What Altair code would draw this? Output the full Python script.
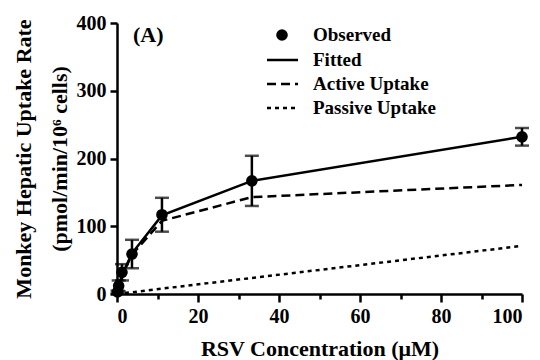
import altair as alt
import pandas as pd

# Observed data (RSV concentration in µM, uptake rate)
conc = [0.137, 0.41, 1.23, 3.7, 11.1, 33.3, 100]
observed = [3, 12, 32, 59, 117, 167, 232]
err = [2, 8, 12, 21, 25, 37, 13]

# Model curves read at the same concentrations (0 added at start)
curve_x = [0, 0.137, 0.41, 1.23, 3.7, 11.1, 33.3, 100]
fitted = [0, 3, 11, 28, 60, 116, 167, 232]
active = [0, 3, 10, 27, 58, 108, 143, 161]
passive = [0, 0.1, 0.3, 0.9, 2.6, 7.9, 23.7, 71]

FONT = "'Liberation Serif', 'Times New Roman', Times, serif"

obs_df = pd.DataFrame({"x": conc, "y": observed,
                       "lo": [o - e for o, e in zip(observed, err)],
                       "hi": [o + e for o, e in zip(observed, err)]})
curve_df = pd.DataFrame({"x": curve_x, "fitted": fitted, "active": active, "passive": passive})

xscale = alt.Scale(domain=[0, 100], nice=False, zero=True)
yscale = alt.Scale(domain=[0, 400], nice=False)

xaxis = alt.Axis(
    values=list(range(0, 101, 5)),
    labelExpr="datum.value % 20 === 0 ? datum.label : ''",
    tickSize={"condition": {"test": "datum.value % 20 === 0", "value": 8}, "value": 5},
    title="RSV Concentration (\u03bcM)",
    titlePadding=12,
    titleFontSize=22,
)
yaxis = alt.Axis(
    values=[0, 100, 200, 300, 400],
    tickSize=7,
    title=["Monkey Hepatic Uptake Rate", "(pmol/min/10\u2076 cells)"],
    titlePadding=5,
    titleLineHeight=36,
    titleFontSize=22,
)

base_curve = alt.Chart(curve_df)
fit_line = base_curve.mark_line(color="black", strokeWidth=2.5).encode(
    x=alt.X("x:Q", scale=xscale, axis=xaxis), y=alt.Y("fitted:Q", scale=yscale, axis=yaxis))
act_line = base_curve.mark_line(color="black", strokeWidth=2.5, strokeDash=[9, 5]).encode(
    x=alt.X("x:Q", scale=xscale), y=alt.Y("active:Q", scale=yscale))
pas_line = base_curve.mark_line(color="black", strokeWidth=2.5, strokeDash=[4, 4]).encode(
    x=alt.X("x:Q", scale=xscale), y=alt.Y("passive:Q", scale=yscale))

base_obs = alt.Chart(obs_df)
err_rule = base_obs.mark_rule(color="black", strokeWidth=2.5).encode(
    x=alt.X("x:Q", scale=xscale), y=alt.Y("lo:Q", scale=yscale), y2="hi:Q")
cap_lo = base_obs.mark_tick(color="black", orient="horizontal", size=14, thickness=2.5).encode(
    x=alt.X("x:Q", scale=xscale), y=alt.Y("lo:Q", scale=yscale))
cap_hi = base_obs.mark_tick(color="black", orient="horizontal", size=14, thickness=2.5).encode(
    x=alt.X("x:Q", scale=xscale), y=alt.Y("hi:Q", scale=yscale))
pts = base_obs.mark_circle(color="black", size=135, opacity=1).encode(
    x=alt.X("x:Q", scale=xscale), y=alt.Y("y:Q", scale=yscale))

# Manual legend
leg_labels = ["Observed", "Fitted", "Active Uptake", "Passive Uptake"]
rows_y = [12, 37, 61, 85]
one = pd.DataFrame({"a": [0]})
legend_layers = []
for lab, ry in zip(leg_labels, rows_y):
    legend_layers.append(alt.Chart(one).mark_text(
        text=lab, font=FONT, fontWeight="bold", fontSize=19, align="left", baseline="middle",
        color="black").encode(x=alt.value(196), y=alt.value(ry)))
legend_layers.append(alt.Chart(one).mark_point(
    filled=True, shape="circle", size=135, color="black", opacity=1).encode(
    x=alt.value(165), y=alt.value(rows_y[0])))
for dash, ry in zip([[1, 0], [9, 5], [4, 4]], rows_y[1:]):
    legend_layers.append(alt.Chart(one).mark_rule(
        color="black", strokeWidth=2.5, strokeDash=dash).encode(
        x=alt.value(150), x2=alt.value(181), y=alt.value(ry)))
panel = alt.Chart(one).mark_text(
    text="(A)", font=FONT, fontWeight="bold", fontSize=22, align="left", baseline="middle",
    color="black").encode(x=alt.value(16), y=alt.value(12))

chart = alt.layer(
    pas_line, act_line, fit_line, err_rule, cap_lo, cap_hi, pts, panel, *legend_layers
).properties(
    width=405, height=271,
    autosize=alt.AutoSizeParams(type="none"),
    padding={"left": 109, "top": 15, "right": 10, "bottom": 66},
).configure_view(stroke=None).configure_axis(
    grid=False,
    domainColor="black", domainWidth=2.5,
    tickColor="black", tickWidth=2.5,
    labelFont=FONT, labelFontWeight="bold", labelFontSize=20, labelColor="black",
    titleFont=FONT, titleFontWeight="bold", titleColor="black",
    labelPadding=4,
)

chart.save("out.html", embed_options={"renderer": "svg", "actions": False})
